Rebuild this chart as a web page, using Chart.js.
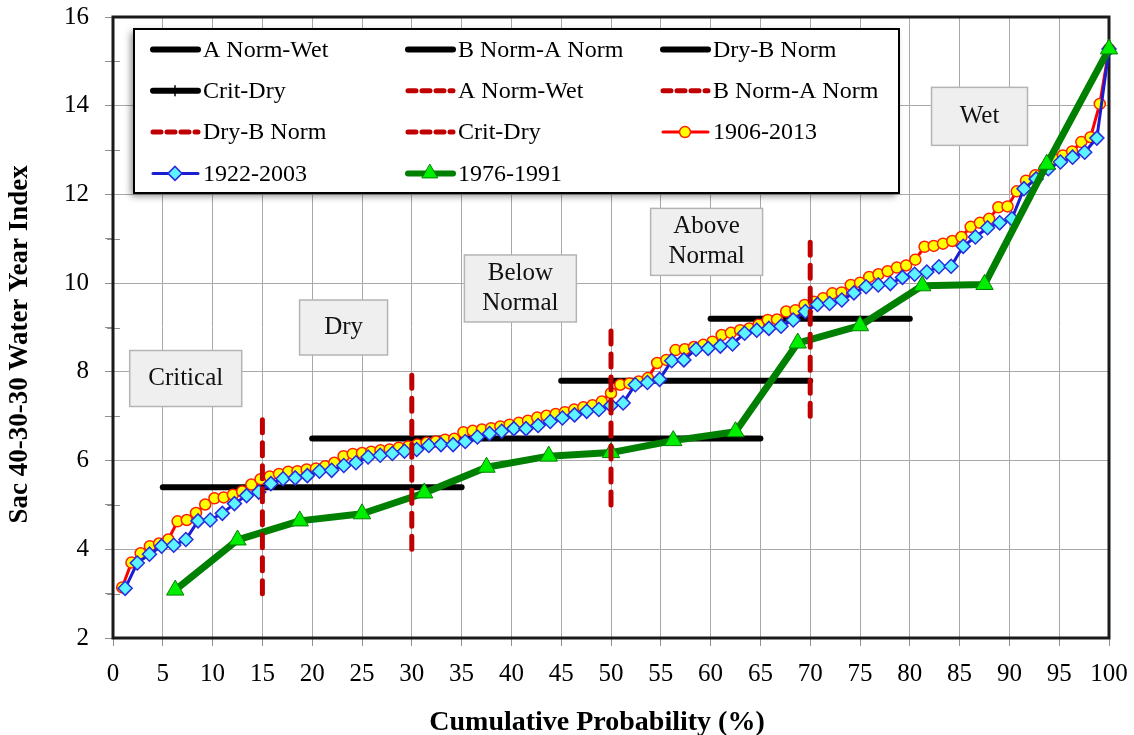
<!DOCTYPE html>
<html>
<head>
<meta charset="utf-8">
<script src="https://cdn.jsdelivr.net/npm/chart.js@4.4.1/dist/chart.umd.min.js"></script>
<style>
  html, body { margin: 0; padding: 0; background: #fff; }
  canvas { display: block; }
</style>
</head>
<body>
<canvas id="chart" width="1134" height="735"></canvas>
<script>
// Sac 40-30-30 index, sorted low to high, for each period
const wy1906to2013 = [
    3.14, 3.70, 3.91, 4.07, 4.13, 4.22, 4.63, 4.66, 4.82, 5.01,
    5.15, 5.17, 5.23, 5.30, 5.46, 5.58, 5.64, 5.70, 5.75, 5.76,
    5.80, 5.82, 5.87, 5.95, 6.10, 6.15, 6.17, 6.20, 6.23, 6.25,
    6.29, 6.32, 6.36, 6.40, 6.43, 6.47, 6.49, 6.64, 6.67, 6.70,
    6.73, 6.77, 6.81, 6.85, 6.90, 6.97, 7.01, 7.05, 7.09, 7.15,
    7.20, 7.25, 7.33, 7.52, 7.71, 7.74, 7.78, 7.86, 8.20, 8.27,
    8.49, 8.51, 8.56, 8.61, 8.68, 8.83, 8.88, 8.94, 8.98, 9.06,
    9.17, 9.18, 9.36, 9.39, 9.51, 9.58, 9.66, 9.77, 9.79, 9.96,
    10.01, 10.14, 10.20, 10.27, 10.35, 10.40, 10.53, 10.82, 10.84, 10.89,
    10.95, 11.04, 11.27, 11.36, 11.45, 11.71, 11.73, 12.07, 12.31, 12.43,
    12.58, 12.80, 12.88, 12.97, 13.18, 13.29, 14.04, 15.28
];
const wy1922to2003 = [
    3.12, 3.69, 3.89, 4.07, 4.09, 4.22, 4.64, 4.66, 4.81, 5.03,
    5.21, 5.29, 5.48, 5.59, 5.61, 5.66, 5.76, 5.78, 5.89, 5.95,
    6.08, 6.12, 6.16, 6.21, 6.25, 6.34, 6.36, 6.36, 6.43, 6.53,
    6.61, 6.66, 6.72, 6.72, 6.79, 6.88, 6.96, 7.03, 7.11, 7.15,
    7.24, 7.30, 7.71, 7.76, 7.83, 8.25, 8.27, 8.51, 8.53, 8.58,
    8.63, 8.87, 8.94, 8.98, 9.03, 9.17, 9.36, 9.52, 9.54, 9.62,
    9.78, 9.92, 9.96, 9.99, 10.13, 10.20, 10.25, 10.37, 10.38, 10.83,
    11.04, 11.25, 11.36, 11.45, 12.13, 12.35, 12.58, 12.73, 12.84, 12.95,
    13.27, 15.28
];
const wy1976to1991 = [
    3.08, 4.21, 4.64, 4.80, 5.27, 5.85, 6.10, 6.18,
    6.45, 6.65, 8.65, 9.04, 9.94, 9.97, 12.68, 15.28
];

// year type limits: horizontal = index threshold, vertical = probability boundary
const typeNames = ['A Norm-Wet', 'B Norm-A Norm', 'Dry-B Norm', 'Crit-Dry'];
const indexThreshold = [9.2, 7.8, 6.5, 5.4];
const thresholdFrom = [60, 45, 20, 5];
const thresholdTo = [80, 70, 65, 35];
const probBoundary = [70, 50, 30, 15];
const boundaryLow = [7, 5, 4, 3];
const boundaryHigh = [11, 9, 8, 7];

const yearTypes = [['Critical'], ['Dry'], ['Below', 'Normal'], ['Above', 'Normal'], ['Wet']];

// where the year type boxes sit (data units for centre, pixels for size)
const zoneBoxes = [
    { x: 7.3, y: 7.85, w: 112, h: 56 },
    { x: 23.15, y: 9.0, w: 88, h: 55 },
    { x: 40.9, y: 9.88, w: 112, h: 67 },
    { x: 59.6, y: 10.93, w: 112, h: 67 },
    { x: 87.0, y: 13.76, w: 96, h: 58 }
];

const SERIF = "'Liberation Serif', 'Times New Roman', serif";

// plotting position i/n for sorted values
const cumProb = (vals) => vals.map((v, i) => ({ x: (i + 1) / vals.length * 100, y: v }));

const datasets = [];

typeNames.forEach((name, i) => {
    datasets.push({
        label: name,
        data: [{ x: thresholdFrom[i], y: indexThreshold[i] }, { x: thresholdTo[i], y: indexThreshold[i] }],
        borderColor: '#000',
        borderWidth: 6,
        borderCapStyle: 'round',
        pointRadius: 0,
        legendTick: i === 3,
        order: 5
    });
});

typeNames.forEach((name, i) => {
    datasets.push({
        label: name,
        data: [{ x: probBoundary[i], y: boundaryLow[i] }, { x: probBoundary[i], y: boundaryHigh[i] }],
        borderColor: '#c00000',
        borderWidth: 5,
        borderDash: [13, 10],
        borderCapStyle: 'round',
        pointRadius: 0,
        order: 0
    });
});

datasets.push({
    label: '1906-2013',
    data: cumProb(wy1906to2013),
    borderColor: '#ff0000',
    borderWidth: 3,
    pointStyle: 'circle',
    pointRadius: 5.5,
    pointBackgroundColor: '#ffff00',
    pointBorderColor: '#ff2000',
    pointBorderWidth: 1.5,
    order: 3
});
datasets.push({
    label: '1922-2003',
    data: cumProb(wy1922to2003),
    borderColor: '#1c1cd0',
    borderWidth: 3,
    pointStyle: 'rectRot',
    pointRadius: 7,
    pointBackgroundColor: '#5cf4ff',
    pointBorderColor: '#2a2ae0',
    pointBorderWidth: 1.5,
    order: 2
});
datasets.push({
    label: '1976-1991',
    data: cumProb(wy1976to1991),
    borderColor: '#008000',
    borderWidth: 7,
    borderJoinStyle: 'round',
    pointStyle: 'triangle',
    pointRadius: 10,
    pointBackgroundColor: '#00ee00',
    pointBorderColor: '#008000',
    pointBorderWidth: 1,
    order: 1
});

datasets.forEach(ds => { ds.clip = 14; ds.tension = 0; });

function drawMarker(ctx, style, x, y, r) {
    ctx.beginPath();
    if (style === 'circle') {
        ctx.arc(x, y, r, 0, Math.PI * 2);
    } else if (style === 'rectRot') {
        ctx.moveTo(x - r, y); ctx.lineTo(x, y - r); ctx.lineTo(x + r, y); ctx.lineTo(x, y + r);
        ctx.closePath();
    } else if (style === 'triangle') {
        ctx.moveTo(x, y - r); ctx.lineTo(x + r * 0.866, y + r / 2); ctx.lineTo(x - r * 0.866, y + r / 2);
        ctx.closePath();
    }
}

// grey year type boxes, plot frame and minor y ticks
const backdrop = {
    id: 'backdrop',
    beforeDatasetsDraw(chart) {
        const { ctx, chartArea: a, scales: { x, y } } = chart;
        ctx.save();
        ctx.font = '25px ' + SERIF;
        ctx.textAlign = 'center';
        ctx.textBaseline = 'middle';
        zoneBoxes.forEach((b, i) => {
            const cx = x.getPixelForValue(b.x), cy = y.getPixelForValue(b.y);
            ctx.fillStyle = '#efefef';
            ctx.fillRect(cx - b.w / 2, cy - b.h / 2, b.w, b.h);
            ctx.strokeStyle = '#b4b4b4';
            ctx.lineWidth = 1.5;
            ctx.strokeRect(cx - b.w / 2, cy - b.h / 2, b.w, b.h);
            ctx.fillStyle = '#111';
            const lines = yearTypes[i];
            lines.forEach((t, k) => ctx.fillText(t, cx, cy + (k - (lines.length - 1) / 2) * 30));
        });

        ctx.strokeStyle = '#909090';
        ctx.lineWidth = 1;
        for (let v = 3; v < 16; v += 2) {
            const py = Math.round(y.getPixelForValue(v)) + 0.5;
            ctx.beginPath();
            ctx.moveTo(a.left - 6, py);
            ctx.lineTo(a.left + 7, py);
            ctx.stroke();
        }

        ctx.strokeStyle = '#1a1a1a';
        ctx.lineWidth = 3;
        ctx.strokeRect(a.left, a.top, a.right - a.left, a.bottom - a.top);
        ctx.restore();
    }
};

// legend box in the upper left of the plot, three columns
const boxLegend = {
    id: 'boxLegend',
    afterDatasetsDraw(chart) {
        const ctx = chart.ctx;
        const left = 134, top = 29, width = 765, height = 164;
        ctx.save();
        ctx.shadowColor = 'rgba(0,0,0,0.45)';
        ctx.shadowBlur = 7;
        ctx.shadowOffsetX = -3;
        ctx.shadowOffsetY = 3;
        ctx.fillStyle = '#fff';
        ctx.fillRect(left, top, width, height);
        ctx.restore();

        ctx.save();
        ctx.strokeStyle = '#000';
        ctx.lineWidth = 2;
        ctx.strokeRect(left, top, width, height);

        ctx.font = '24px ' + SERIF;
        ctx.textBaseline = 'middle';
        ctx.textAlign = 'left';
        chart.data.datasets.forEach((ds, i) => {
            const col = i % 3, row = Math.floor(i / 3);
            const x0 = left + 17 + col * 255;
            const yc = top + 20.5 + row * 41.3;
            ctx.strokeStyle = ds.borderColor;
            ctx.lineWidth = Math.min(ds.borderWidth, 6);
            ctx.lineCap = 'round';
            ctx.setLineDash(ds.borderDash ? [8, 6] : []);
            ctx.beginPath();
            ctx.moveTo(x0 + 2, yc);
            ctx.lineTo(x0 + 47, yc);
            ctx.stroke();
            ctx.setLineDash([]);
            if (ds.legendTick) {
                ctx.lineWidth = 1.5;
                ctx.beginPath();
                ctx.moveTo(x0 + 24, yc - 5);
                ctx.lineTo(x0 + 24, yc + 5);
                ctx.stroke();
            }
            if (ds.pointRadius) {
                drawMarker(ctx, ds.pointStyle, x0 + 24, yc, ds.pointStyle === 'triangle' ? 9 : ds.pointRadius);
                ctx.fillStyle = ds.pointBackgroundColor;
                ctx.fill();
                ctx.strokeStyle = ds.pointBorderColor;
                ctx.lineWidth = ds.pointBorderWidth;
                ctx.stroke();
            }
            ctx.fillStyle = '#000';
            ctx.fillText(ds.label, x0 + 52, yc + 1);
        });
        ctx.restore();
    }
};

Chart.defaults.font.family = SERIF;
Chart.defaults.color = '#000';

new Chart(document.getElementById('chart'), {
    type: 'line',
    data: { datasets },
    options: {
        responsive: false,
        animation: false,
        layout: { padding: { top: 17, right: 25, left: 0, bottom: 0 } },
        plugins: {
            legend: { display: false },
            tooltip: { enabled: false }
        },
        scales: {
            x: {
                type: 'linear',
                min: 0,
                max: 100,
                afterFit: (s) => { s.height = 97; s.paddingLeft = 0; s.paddingRight = 0; },
                border: { display: false },
                grid: { color: '#a8a8a8', tickColor: '#909090', tickLength: 8 },
                ticks: {
                    stepSize: 5,
                    autoSkip: false,
                    maxRotation: 0,
                    padding: 13,
                    font: { size: 25 }
                },
                title: {
                    display: true,
                    // trailing spaces nudge the centred title left, as in the original
                    text: 'Cumulative Probability (%)    ',
                    font: { size: 28, weight: 'bold', lineHeight: 0.9 },
                    padding: { top: 0, bottom: 0 }
                }
            },
            y: {
                min: 2,
                max: 16,
                afterFit: (s) => { s.width = 113; s.paddingTop = 0; s.paddingBottom = 0; },
                border: { display: false },
                grid: {
                    color: (c) => (c.tick && c.tick.value % 2 === 0) ? '#a8a8a8' : 'rgba(0,0,0,0)',
                    tickColor: '#909090',
                    tickLength: 8
                },
                ticks: {
                    stepSize: 1,
                    autoSkip: false,
                    padding: 16,
                    font: { size: 25 },
                    callback: (v) => v % 2 === 0 ? v : ''
                },
                title: {
                    display: true,
                    text: 'Sac 40-30-30 Water Year Index     ',
                    font: { size: 27, weight: 'bold', lineHeight: 1 },
                    padding: { top: 7, bottom: 0 }
                }
            }
        }
    },
    plugins: [backdrop, boxLegend]
});
</script>
</body>
</html>
